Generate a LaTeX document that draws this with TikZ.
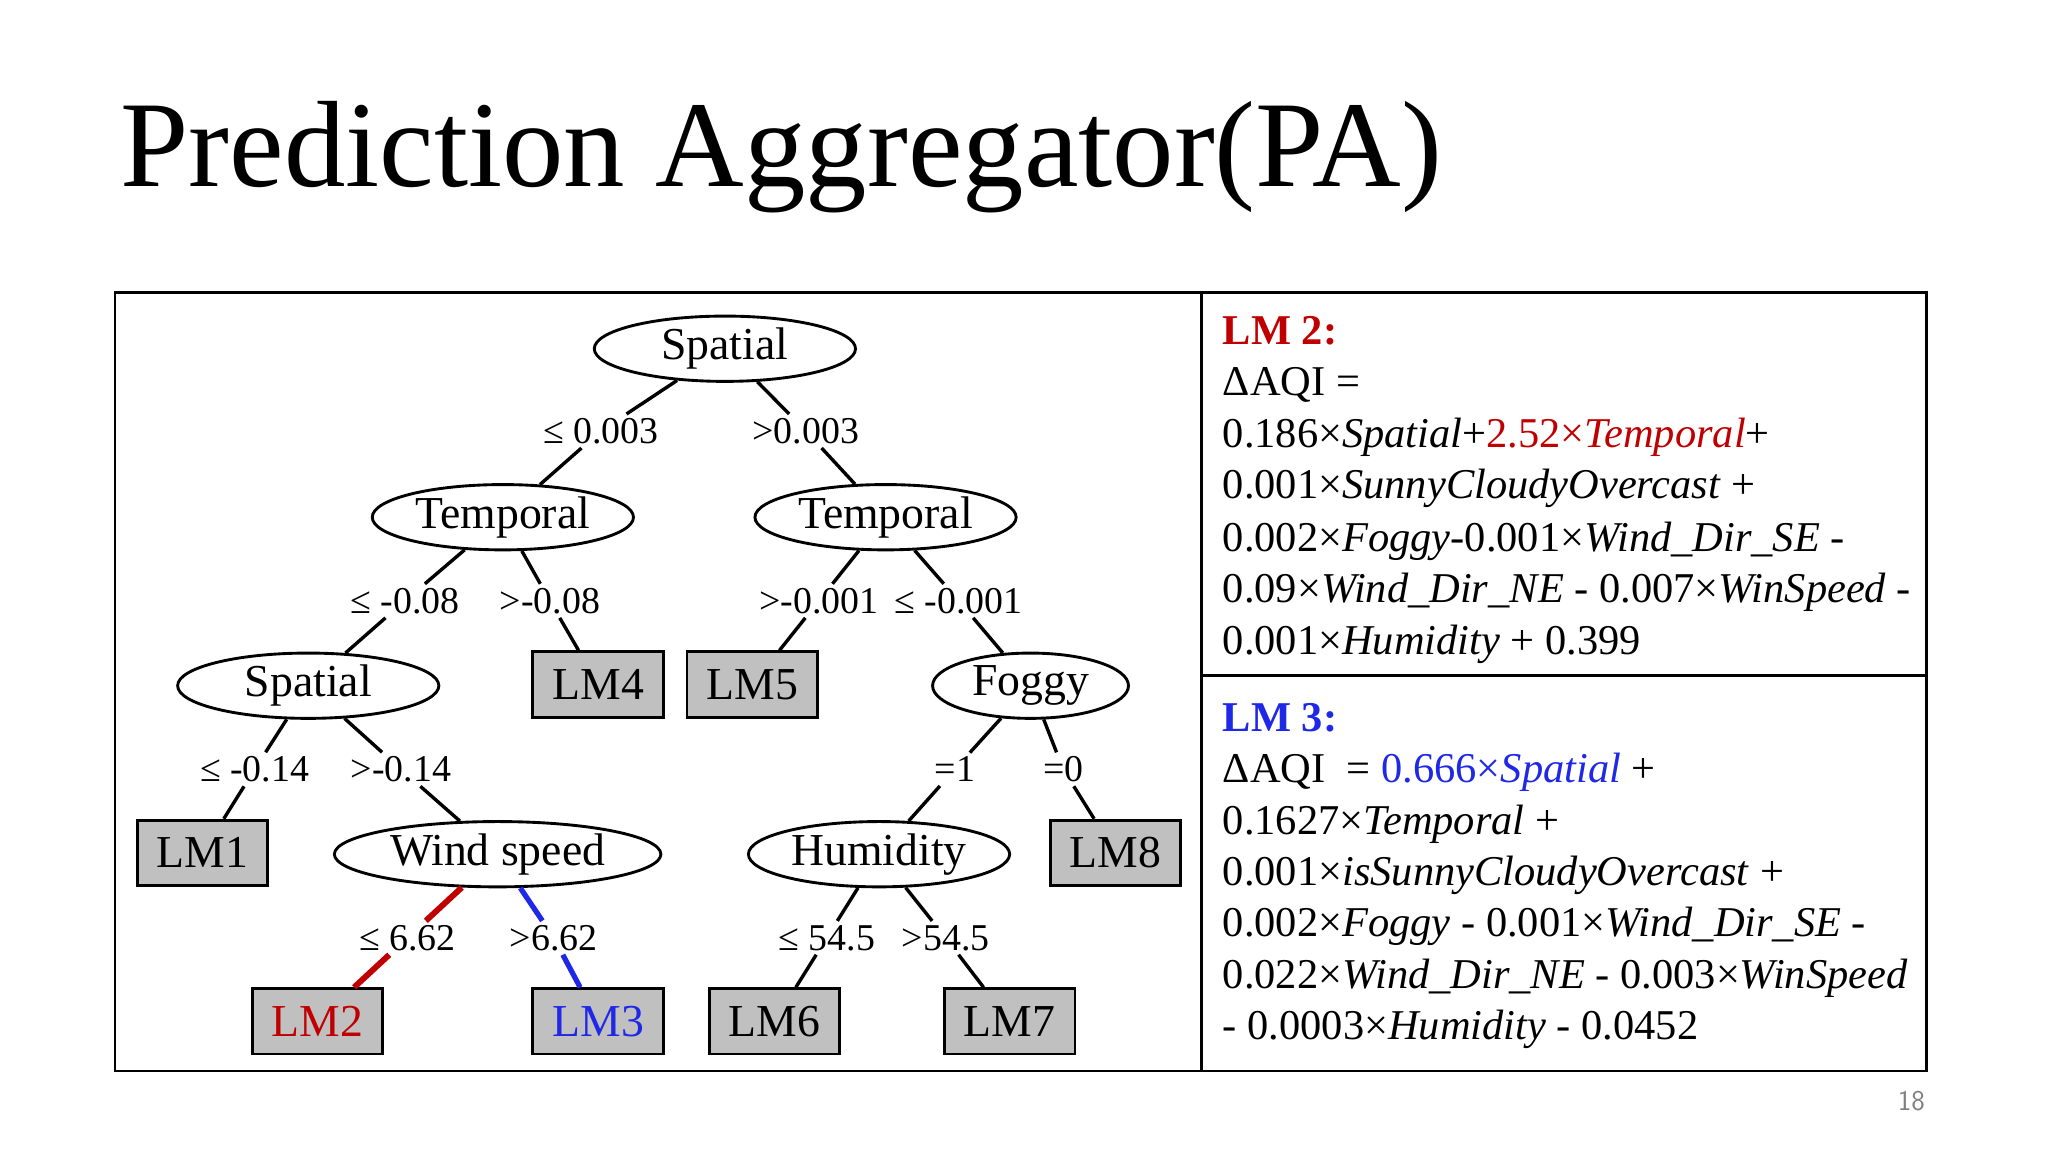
\documentclass[tikz,border=0pt]{standalone}
\usepackage{fontspec}
\setmainfont{Liberation Serif}
\usetikzlibrary{shapes.geometric}
\definecolor{myred}{RGB}{192,0,0}
\definecolor{myblue}{RGB}{30,40,230}
\begin{document}
\begin{tikzpicture}[x=1pt,y=-1pt,
  ell/.style={draw,ellipse,line width=2.2pt,minimum width=200pt,minimum height=50pt,inner sep=0pt,font=\fontsize{35}{40}\selectfont},
  lmbox/.style={draw,fill={rgb,255:red,192;green,192;blue,192},line width=2.2pt,minimum width=100pt,minimum height=50pt,inner sep=0pt,font=\fontsize{35}{40}\selectfont},
  lab/.style={inner sep=3pt,font=\fontsize{29}{34}\selectfont},
  edge/.style={line width=2.6pt},
  txt/.style={anchor=base west,inner sep=0pt,font=\fontsize{32.5}{36}\selectfont}]
\useasboundingbox (0,0) rectangle (1568,882);
\node[anchor=base west,inner sep=0pt,font=\fontsize{94}{110}\selectfont] (title) at (92,143) {Prediction Aggregator(PA)};
\node[anchor=base east,inner sep=0pt,text=gray,font=\sffamily\fontsize{22}{26}\selectfont] (pg) at (1474,850) {18};
\draw[line width=2.2pt] (88,224) rectangle (1475,820);
\draw[line width=2.2pt] (920,224) -- (920,820);
\draw[line width=2.2pt] (920,517) -- (1475,517);
% tree nodes
\node[ell] (s1) at (555,267) {Spatial};
\node[ell] (t1) at (385,396) {Temporal};
\node[ell] (t2) at (678,396) {Temporal};
\node[ell] (s2) at (236,525) {Spatial};
\node[ell,minimum width=150pt] (fg) at (789,525) {Foggy};
\node[ell,minimum width=250pt] (ws) at (381,654) {Wind speed};
\node[ell] (hu) at (673,654) {Humidity};
\node[lmbox] (lm4) at (458,524) {LM4};
\node[lmbox] (lm5) at (576,524) {LM5};
\node[lmbox] (lm1) at (155,653) {LM1};
\node[lmbox] (lm8) at (854,653) {LM8};
\node[lmbox,text=myred] (lm2) at (243,782) {LM2};
\node[lmbox,text=myblue] (lm3) at (458,782) {LM3};
\node[lmbox] (lm6) at (593,782) {LM6};
\node[lmbox] (lm7) at (773,782) {LM7};
% labels
\node[lab] (a1) at (460,330) {≤ 0.003};
\node[lab] (a2) at (617,330) {>0.003};
\node[lab] (b1) at (310,460) {≤ -0.08};
\node[lab] (b2) at (421,460) {>-0.08};
\node[lab] (b3) at (627,460) {>-0.001};
\node[lab] (b4) at (734,460) {≤ -0.001};
\node[lab] (c1) at (195,589) {≤ -0.14};
\node[lab] (c2) at (307,589) {>-0.14};
\node[lab] (c3) at (731,589) {=1};
\node[lab] (c4) at (814,589) {=0};
\node[lab] (d1) at (312,718) {≤ 6.62};
\node[lab] (d2) at (424,718) {>6.62};
\node[lab] (d3) at (633,718) {≤ 54.5};
\node[lab] (d4) at (724,718) {>54.5};
% edges
\foreach \p/\l/\c in {s1/a1/t1, s1/a2/t2, t1/b1/s2, t1/b2/lm4, t2/b3/lm5, t2/b4/fg, s2/c1/lm1, s2/c2/ws, fg/c3/hu, fg/c4/lm8, hu/d3/lm6, hu/d4/lm7}
  {\draw[edge] (\p) -- (\l); \draw[edge] (\l) -- (\c);}
\draw[edge,line width=4.5pt,myred] (ws) -- (d1); \draw[edge,line width=4.5pt,myred] (d1) -- (lm2);
\draw[edge,line width=4pt,myblue] (ws) -- (d2); \draw[edge,line width=4pt,myblue] (d2) -- (lm3);
% right text
\node[txt,text=myred] (r1) at (936,264) {\textbf{LM 2:}};
\node[txt] (r2) at (936,303) {ΔAQI =};
\node[txt] (r3) at (936,343) {0.186×\textit{Spatial}+\textcolor{myred}{2.52×\textit{Temporal}}+};
\node[txt] (r4) at (936,382) {0.001×\textit{SunnyCloudyOvercast} +};
\node[txt] (r5) at (936,422) {0.002×\textit{Foggy}-0.001×\textit{Wind\_Dir\_SE} -};
\node[txt] (r6) at (936,461) {0.09×\textit{Wind\_Dir\_NE} - 0.007×\textit{WinSpeed} -};
\node[txt] (r7) at (936,501) {0.001×\textit{Humidity} + 0.399};
\node[txt,text=myblue] (q1) at (936,560) {\textbf{LM 3:}};
\node[txt] (q2) at (936,599) {ΔAQI \ = \textcolor{myblue}{0.666×\textit{Spatial}} +};
\node[txt] (q3) at (936,639) {0.1627×\textit{Temporal} +};
\node[txt] (q4) at (936,678) {0.001×\textit{isSunnyCloudyOvercast} +};
\node[txt] (q5) at (936,717) {0.002×\textit{Foggy} - 0.001×\textit{Wind\_Dir\_SE} -};
\node[txt] (q6) at (936,757) {0.022×\textit{Wind\_Dir\_NE} - 0.003×\textit{WinSpeed}};
\node[txt] (q7) at (936,796) {- 0.0003×\textit{Humidity} - 0.0452};
\end{tikzpicture}
\end{document}
